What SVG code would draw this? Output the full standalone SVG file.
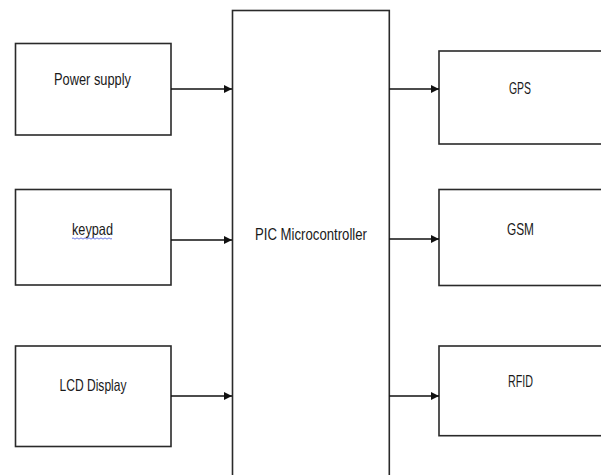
<svg xmlns="http://www.w3.org/2000/svg" width="601" height="475" viewBox="0 0 601 475">
<style>
.box{fill:#fff;stroke:#2a2a2a;stroke-width:1.6}
.lbl{font-family:"Liberation Sans",Arial,sans-serif;font-size:16.5px;fill:#1a1a1a;text-anchor:middle}
.wire{stroke:#111;stroke-width:1.4;fill:none}
</style>
<defs>
<marker id="ah" viewBox="0 0 10 10" refX="10" refY="5" markerWidth="8" markerHeight="8" markerUnits="userSpaceOnUse" orient="auto">
<path d="M0,0 L10,5 L0,10 z" fill="#111"/>
</marker>
</defs>
<rect width="601" height="475" fill="#fff"/>
<g id="pic">
<rect class="box" x="232.5" y="10.5" width="156.8" height="470"/>
<text class="lbl" x="311" y="239.5" textLength="112" lengthAdjust="spacingAndGlyphs">PIC Microcontroller</text>
</g>
<g id="power">
<rect class="box" x="15.5" y="43.5" width="155.5" height="91.5"/>
<text class="lbl" x="92.5" y="85" textLength="77" lengthAdjust="spacingAndGlyphs">Power supply</text>
</g>
<g id="keypad">
<rect class="box" x="15.5" y="189.5" width="155.5" height="95.5"/>
<text class="lbl" x="92.5" y="235" textLength="41" lengthAdjust="spacingAndGlyphs">keypad</text>
<path d="M72,238.5 q1,-1.2 2,0 t2,0 t2,0 t2,0 t2,0 t2,0 t2,0 t2,0 t2,0 t2,0 t2,0 t2,0 t2,0 t2,0 t2,0 t2,0 t2,0 t2,0 t2,0 t2,0" fill="none" stroke="#4b5be0" stroke-width="0.8"/>
</g>
<g id="lcd">
<rect class="box" x="15.5" y="346" width="155.5" height="100.5"/>
<text class="lbl" x="93" y="391" textLength="67" lengthAdjust="spacingAndGlyphs">LCD Display</text>
</g>
<g id="gps">
<rect class="box" x="439" y="51" width="170" height="93"/>
<text class="lbl" x="520" y="94" textLength="22" lengthAdjust="spacingAndGlyphs">GPS</text>
</g>
<g id="gsm">
<rect class="box" x="439" y="189.5" width="170" height="96"/>
<text class="lbl" x="520.5" y="235" textLength="27" lengthAdjust="spacingAndGlyphs">GSM</text>
</g>
<g id="rfid">
<rect class="box" x="439" y="346" width="170" height="89.7"/>
<text class="lbl" x="520.5" y="387" textLength="25" lengthAdjust="spacingAndGlyphs">RFID</text>
</g>
<g id="connectors">
<line class="wire" x1="171" y1="89" x2="232" y2="89" marker-end="url(#ah)"/>
<line class="wire" x1="171" y1="240" x2="232" y2="240" marker-end="url(#ah)"/>
<line class="wire" x1="171" y1="396" x2="232" y2="396" marker-end="url(#ah)"/>
<line class="wire" x1="389.3" y1="89" x2="439" y2="89" marker-end="url(#ah)"/>
<line class="wire" x1="389.3" y1="239" x2="439" y2="239" marker-end="url(#ah)"/>
<line class="wire" x1="389.3" y1="396" x2="439" y2="396" marker-end="url(#ah)"/>
</g>
</svg>
